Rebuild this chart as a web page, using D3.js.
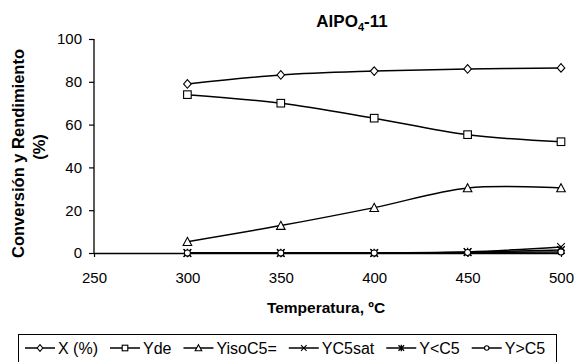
<!DOCTYPE html>
<html>
<head>
<meta charset="utf-8">
<script src="https://cdn.jsdelivr.net/npm/d3@7"></script>
<style>
  body { margin: 0; background: #fff; }
  svg { display: block; font-family: "Liberation Sans", Arial, sans-serif; }
</style>
</head>
<body>
<div id="chart"></div>
<script>
// temperatures (ºC)
const temps = [300, 350, 400, 450, 500];
const xTicks = [250, 300, 350, 400, 450, 500];
const yTicks = [0, 20, 40, 60, 80, 100];

// series values
const conv = [79, 83.2, 85, 86, 86.5];
const yde = [74, 70, 63, 55.3, 52];
const yisoC5 = [5.3, 12.8, 21.2, 30.4, 30.4];
const yC5sat = [0, 0, 0, 0.5, 2.8];
const yLtC5 = [0, 0, 0, 0.4, 1.4];
const yGtC5 = [0, 0, 0, 0.2, 0.5];

const seriesNames = ["X (%)", "Yde", "YisoC5=", "YC5sat", "Y<C5", "Y>C5"];
const seriesValues = [conv, yde, yisoC5, yC5sat, yLtC5, yGtC5];
const markerTypes = ["diamond", "square", "triangle", "cross", "star", "circle"];

const W = 577, H = 362;
const svg = d3.select("#chart").append("svg")
  .attr("width", W).attr("height", H);

const x = d3.scaleLinear().domain([250, 500]).range([94, 561]);
const y = d3.scaleLinear().domain([0, 100]).range([253, 39]);

// title
const title = svg.append("text")
  .attr("x", 352).attr("y", 27)
  .attr("text-anchor", "middle")
  .style("font-size", "17px").style("font-weight", "bold");
title.append("tspan").text("AlPO");
title.append("tspan").text("4").attr("dy", 4).style("font-size", "11px");
title.append("tspan").text("-11").attr("dy", -4);

// axes
const yAxis = svg.append("g")
  .attr("transform", "translate(94,0)")
  .call(d3.axisLeft(y).tickValues(yTicks).tickSize(5).tickPadding(7));
const xAxis = svg.append("g")
  .attr("transform", "translate(0,253)")
  .call(d3.axisBottom(x).tickValues(xTicks).tickSize(4).tickPadding(15).tickSizeOuter(0));
[xAxis, yAxis].forEach(g => {
  g.select(".domain").attr("stroke", "#000").attr("stroke-width", 1.3);
  g.selectAll(".tick line").attr("stroke", "#000").attr("stroke-width", 1.2);
  g.selectAll("text").style("font-size", "15px").attr("fill", "#000")
    .style("font-family", "'Liberation Sans', Arial, sans-serif");
});
yAxis.select(".domain").attr("d", "M0,39V253");

// axis titles
svg.append("text")
  .attr("x", 326).attr("y", 313)
  .attr("text-anchor", "middle")
  .style("font-size", "15.5px").style("font-weight", "bold")
  .text("Temperatura, ºC");
svg.append("text")
  .attr("transform", "translate(23.5,153.5) rotate(-90)")
  .attr("text-anchor", "middle")
  .style("font-size", "16.5px").style("font-weight", "bold")
  .text("Conversión y Rendimiento");
svg.append("text")
  .attr("transform", "translate(44.5,147) rotate(-90)")
  .attr("text-anchor", "middle")
  .style("font-size", "16.5px").style("font-weight", "bold")
  .text("(%)");

// marker drawing
function drawMarker(g, type, cx, cy, s = 3.8) {
  if (type === "diamond") {
    g.append("path").attr("d", `M${cx},${cy - s - 0.5}L${cx + s},${cy}L${cx},${cy + s + 0.5}L${cx - s},${cy}Z`)
      .attr("fill", "#fff").attr("stroke", "#000").attr("stroke-width", 1.1);
  } else if (type === "square") {
    g.append("rect").attr("x", cx - s).attr("y", cy - s).attr("width", 2 * s).attr("height", 2 * s)
      .attr("fill", "#fff").attr("stroke", "#000").attr("stroke-width", 1.1);
  } else if (type === "triangle") {
    g.append("path").attr("d", `M${cx},${cy - s - 0.5}L${cx + s + 0.5},${cy + s}L${cx - s - 0.5},${cy + s}Z`)
      .attr("fill", "#fff").attr("stroke", "#000").attr("stroke-width", 1.1);
  } else if (type === "cross") {
    g.append("path").attr("d", `M${cx - s},${cy - s}L${cx + s},${cy + s}M${cx - s},${cy + s}L${cx + s},${cy - s}`)
      .attr("stroke", "#000").attr("stroke-width", 1.1);
  } else if (type === "star") {
    g.append("path").attr("d", `M${cx - s},${cy - s}L${cx + s},${cy + s}M${cx - s},${cy + s}L${cx + s},${cy - s}M${cx},${cy - s - 0.5}L${cx},${cy + s + 0.5}`)
      .attr("stroke", "#000").attr("stroke-width", 1.3);
  } else if (type === "circle") {
    g.append("circle").attr("cx", cx).attr("cy", cy).attr("r", s * 0.8)
      .attr("fill", "#fff").attr("stroke", "#000").attr("stroke-width", 1.1);
  }
}

// lines
const line = d3.line()
  .x((d, i) => x(temps[i]))
  .y(d => y(d))
  .curve(d3.curveCatmullRom.alpha(0));

const plot = svg.append("g");
seriesValues.forEach((vals, k) => {
  plot.append("path")
    .datum(vals)
    .attr("d", line)
    .attr("fill", "none")
    .attr("stroke", "#000")
    .attr("stroke-width", 1.5);
});
seriesValues.forEach((vals, k) => {
  const g = plot.append("g");
  vals.forEach((v, i) => drawMarker(g, markerTypes[k], x(temps[i]), y(v)));
});

// legend
const legend = svg.append("g");
legend.append("rect")
  .attr("x", 18.5).attr("y", 334.5).attr("width", 538).attr("height", 40)
  .attr("fill", "#fff").attr("stroke", "#000").attr("stroke-width", 1);
const legendY = 348;
let lx = 25;
seriesNames.forEach((name, k) => {
  const g = legend.append("g");
  g.append("line").attr("x1", lx).attr("x2", lx + 30)
    .attr("y1", legendY).attr("y2", legendY)
    .attr("stroke", "#000").attr("stroke-width", 1.5);
  drawMarker(g, markerTypes[k], lx + 15, legendY, 2.8);
  const t = g.append("text").attr("x", lx + 33).attr("y", legendY + 5.5)
    .style("font-size", "16px").text(name);
  lx += 33 + t.node().getComputedTextLength() + 12;
});
</script>
</body>
</html>
